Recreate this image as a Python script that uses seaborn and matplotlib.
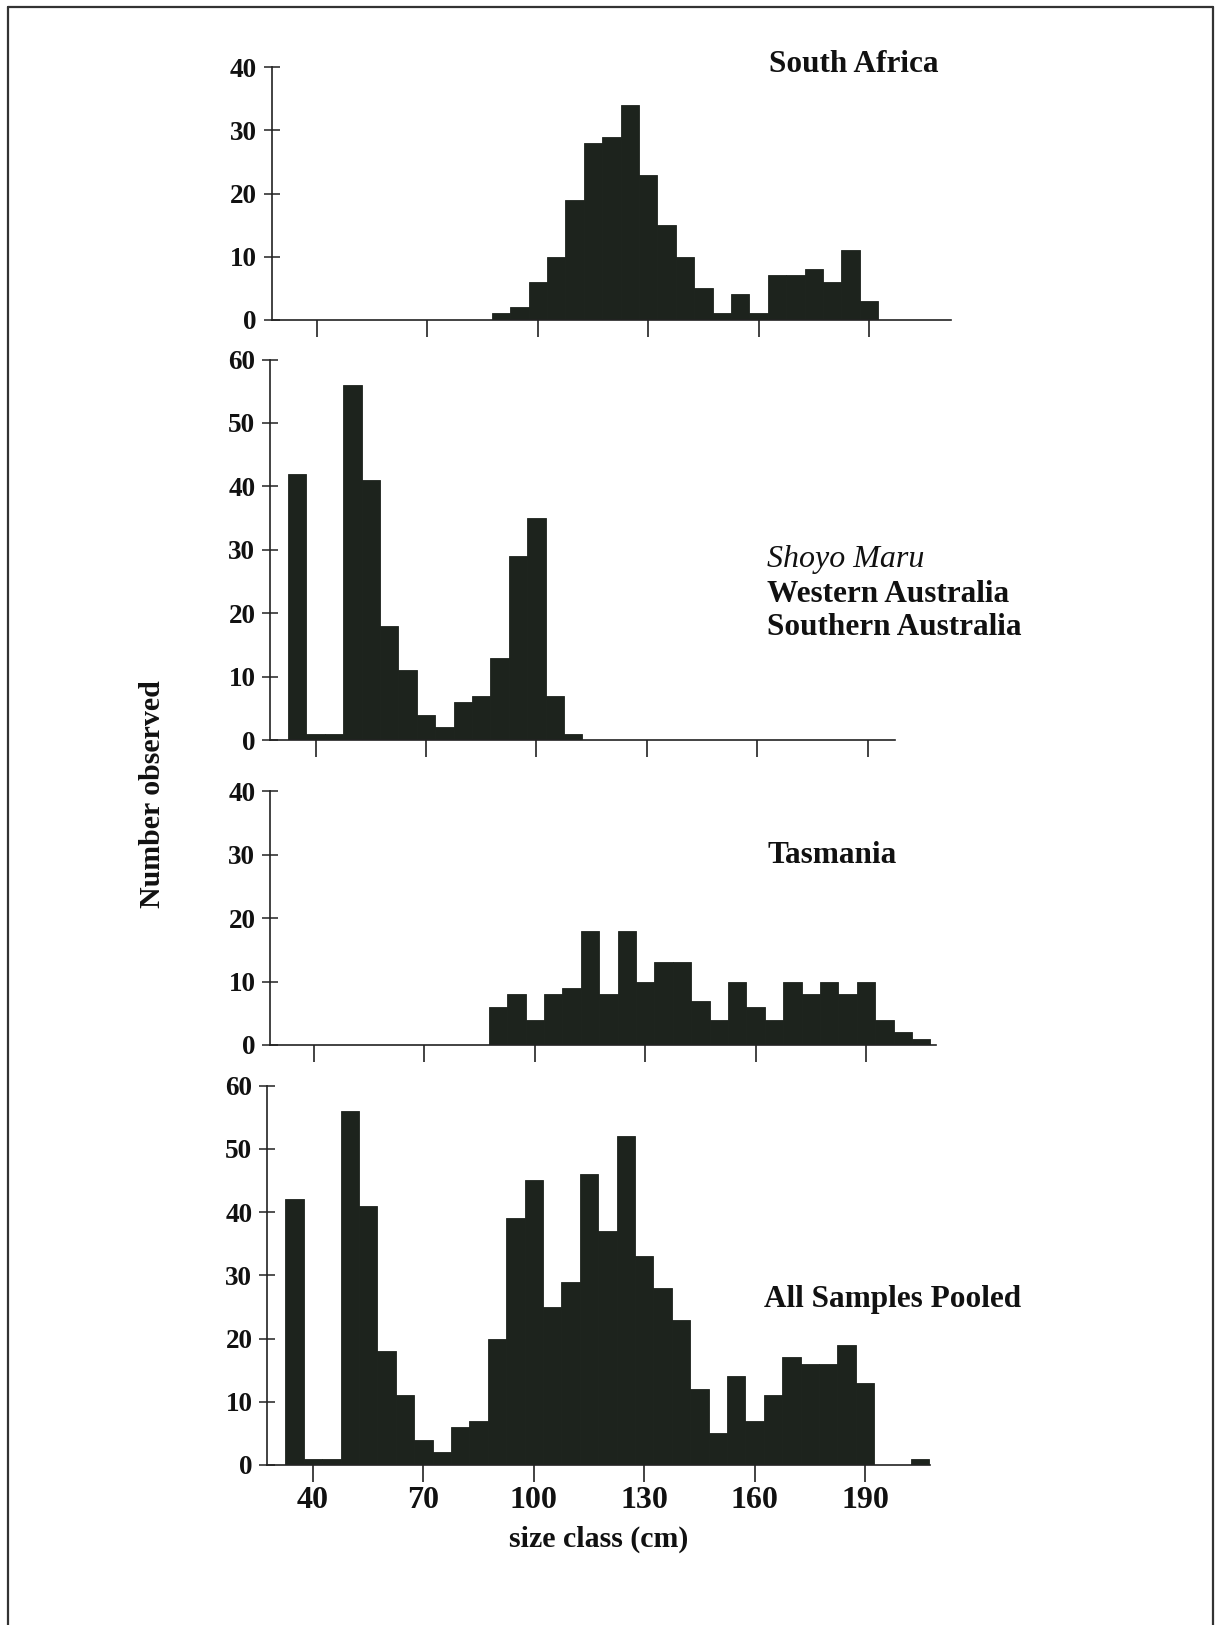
import numpy as np
import pandas as pd
import matplotlib
matplotlib.use("Agg")
import matplotlib.pyplot as plt
from matplotlib.lines import Line2D
import seaborn as sns

# ---------------- data (size class centre in cm, number observed) ----------------
sa_sizes = [90, 95, 100, 105, 110, 115, 120, 125, 130, 135, 140, 145, 150, 155, 160,
            165, 170, 175, 180, 185, 190]
sa_counts = [1, 2, 6, 10, 19, 28, 29, 34, 23, 15, 10, 5, 1, 4, 1, 7, 7, 8, 6, 11, 3]

shoyo_sizes = [35, 40, 45, 50, 55, 60, 65, 70, 75, 80, 85, 90, 95, 100, 105, 110]
shoyo_counts = [42, 1, 1, 56, 41, 18, 11, 4, 2, 6, 7, 13, 29, 35, 7, 1]

tas_sizes = [90, 95, 100, 105, 110, 115, 120, 125, 130, 135, 140, 145, 150, 155, 160,
             165, 170, 175, 180, 185, 190, 195, 200, 205]
tas_counts = [6, 8, 4, 8, 9, 18, 8, 18, 10, 13, 13, 7, 4, 10, 6, 4, 10, 8, 10, 8, 10, 4, 2, 1]

pooled_sizes = [35, 40, 45, 50, 55, 60, 65, 70, 75, 80, 85, 90, 95, 100, 105, 110, 115,
                120, 125, 130, 135, 140, 145, 150, 155, 160, 165, 170, 175, 180, 185,
                190, 195, 200, 205]
pooled_counts = [42, 1, 1, 56, 41, 18, 11, 4, 2, 6, 7, 20, 39, 45, 25, 29, 46, 37, 52,
                 33, 28, 23, 12, 5, 14, 7, 11, 17, 16, 16, 19, 13, 0, 0, 1]

x_ticks = [40, 70, 100, 130, 160, 190]
bin_width = 5

# ---------------- style ----------------
sns.set_theme(style="white")
plt.rcParams['font.family'] = ['Liberation Serif', 'DejaVu Serif']
plt.rcParams['font.weight'] = 'bold'

BAR = '#1d231d'
INK = '#222222'

W, H = 1219, 1625
fig = plt.figure(figsize=(W / 100, H / 100), dpi=100)

px_per_cm = 3.68


def make_axes(ax_left_px, x40_px, top_px, bottom_px, xmax_px):
    x_left = 40 - (x40_px - ax_left_px) / px_per_cm
    x_right = 40 + (xmax_px - x40_px) / px_per_cm
    ax = fig.add_axes([ax_left_px / W, 1 - bottom_px / H,
                       (xmax_px - ax_left_px) / W, (bottom_px - top_px) / H])
    return ax, x_left, x_right


# (sizes, counts, y-axis x px, x=40 px, top px, bottom px, right end px, ymax, labels)
panels = [
    (sa_sizes, sa_counts, 271.5, 317.0, 67.5, 319.5, 951.0, 40, False),
    (shoyo_sizes, shoyo_counts, 270.0, 315.5, 359.5, 740.0, 895.0, 60, False),
    (tas_sizes, tas_counts, 270.0, 314.0, 791.0, 1045.0, 935.5, 40, False),
    (pooled_sizes, pooled_counts, 267.0, 313.0, 1085.5, 1465.0, 930.0, 60, True),
]

for sizes, counts, axl, x40, top, bottom, xr, ymax, show_x in panels:
    ax, x0, x1 = make_axes(axl, x40, top, bottom, xr)
    df = pd.DataFrame({'size': sizes, 'count': counts})
    brange = (min(sizes) - bin_width / 2, max(sizes) + bin_width / 2)
    sns.histplot(data=df, x='size', weights='count', binwidth=bin_width,
                 binrange=brange, ax=ax, color=BAR,
                 alpha=1.0, edgecolor=BAR, linewidth=0.6)
    ax.set_xlim(x0, x1)
    ax.set_ylim(0, ymax)
    ax.set_xlabel('')
    ax.set_ylabel('')
    ax.set_yticks(np.arange(0, ymax + 1, 10))
    ax.set_xticks(x_ticks)
    for s in ['top', 'right']:
        ax.spines[s].set_visible(False)
    for s in ['left', 'bottom']:
        ax.spines[s].set_color(INK)
        ax.spines[s].set_linewidth(1.2)
    ax.tick_params(axis='y', direction='inout', length=11, width=1.1, color=INK,
                   labelsize=19.5, pad=5, left=True)
    ax.tick_params(axis='x', direction='out', length=12, width=1.2, color=INK,
                   labelsize=23, pad=3, bottom=True, labelbottom=show_x)
    for lab in ax.get_yticklabels() + ax.get_xticklabels():
        lab.set_fontweight('bold')
        lab.set_color('#111111')
    ax.patch.set_alpha(0)

# ---------------- texts ----------------
TXT = '#111111'
fs = 22.5
fig.text(769 / W, 1 - 65 / H, 'South Africa', fontsize=fs, fontweight='bold',
         va='center', ha='left', color=TXT)
fig.text(767 / W, 1 - 559 / H, 'Shoyo Maru', fontsize=23, fontweight='normal',
         fontstyle='italic', va='center', ha='left', color=TXT)
fig.text(767 / W, 1 - 594 / H, 'Western Australia', fontsize=fs, fontweight='bold',
         va='center', ha='left', color=TXT)
fig.text(767 / W, 1 - 628 / H, 'Southern Australia', fontsize=fs, fontweight='bold',
         va='center', ha='left', color=TXT)
fig.text(767 / W, 1 - 855 / H, 'Tasmania', fontsize=fs, fontweight='bold',
         va='center', ha='left', color=TXT)
fig.text(764 / W, 1 - 1299 / H, 'All Samples Pooled', fontsize=fs, fontweight='bold',
         va='center', ha='left', color=TXT)

fig.text(599 / W, 1 - 1539 / H, 'size class (cm)', fontsize=21.5, fontweight='bold',
         va='center', ha='center', color=TXT)
fig.text(153 / W, 1 - 794 / H, 'Number observed', fontsize=21.5, fontweight='bold',
         va='center', ha='center', rotation=90, color=TXT)

# ---------------- page frame ----------------
frame_kw = dict(color='#333333', linewidth=1.6, transform=fig.transFigure)
fig.add_artist(Line2D([8 / W, 8 / W], [0, 1 - 7 / H], **frame_kw))
fig.add_artist(Line2D([8 / W, 1213 / W], [1 - 7 / H, 1 - 7 / H], **frame_kw))
fig.add_artist(Line2D([1213 / W, 1213 / W], [0, 1 - 7 / H], **frame_kw))

fig.savefig('out.png', dpi=100, facecolor='white')
